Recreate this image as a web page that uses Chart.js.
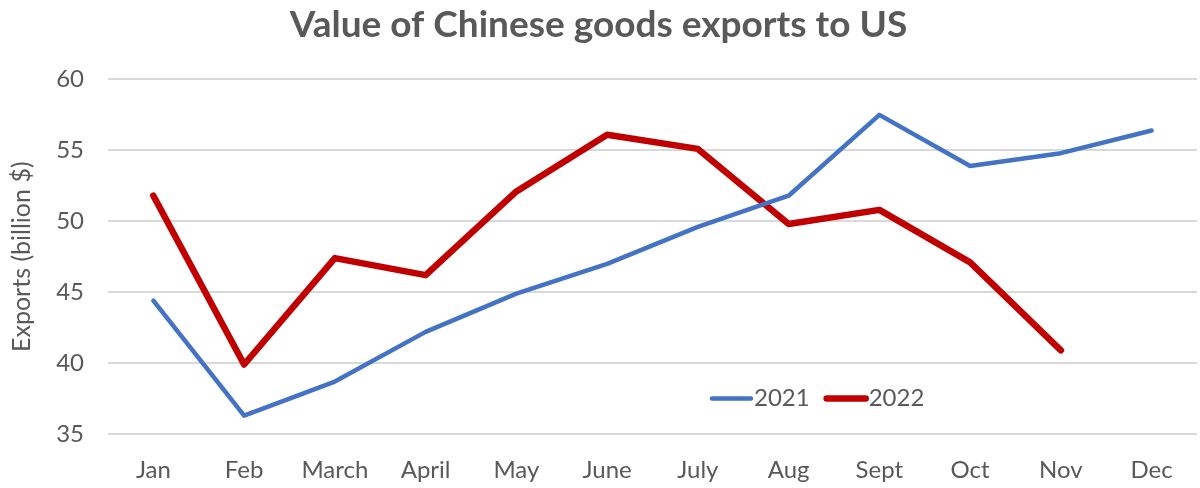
<!DOCTYPE html>
<html>
<head>
<meta charset="utf-8">
<script src="https://cdn.jsdelivr.net/npm/chart.js@4"></script>
<style>
html,body{margin:0;padding:0;background:#fff;}
#wrap{width:1200px;height:488px;position:relative;}
</style>
</head>
<body>
<div id="wrap"><canvas id="c" width="1200" height="488"></canvas></div>
<script>
const months = ["Jan","Feb","March","April","May","June","July","Aug","Sept","Oct","Nov","Dec"];
const exports2021 = [44.4, 36.3, 38.7, 42.2, 44.9, 47.0, 49.6, 51.8, 57.5, 53.9, 54.8, 56.4];
const exports2022 = [51.8, 39.9, 47.4, 46.2, 52.1, 56.1, 55.1, 49.8, 50.8, 47.1, 40.9, null];
const yTicks = [35, 40, 45, 50, 55, 60];
const seriesLabels = ["2021", "2022"];

const FONT = "Lato, 'Open Sans', sans-serif";
const GRAY = "#595959";

const innerLegend = {
  id: 'innerLegend',
  afterDraw(chart) {
    const ctx = chart.ctx;
    const ca = chart.chartArea;
    let x = ca.left + 602;
    const y = ca.top + 319;
    ctx.save();
    ctx.font = "24px " + FONT;
    ctx.textBaseline = "middle";
    chart.data.datasets.forEach(ds => {
      ctx.strokeStyle = ds.borderColor;
      ctx.lineWidth = ds.borderWidth;
      ctx.lineCap = "round";
      ctx.beginPath();
      ctx.moveTo(x + 2, y);
      ctx.lineTo(x + 41, y);
      ctx.stroke();
      ctx.fillStyle = GRAY;
      ctx.fillText(ds.label, x + 44, y);
      x += 44 + ctx.measureText(ds.label).width + 15;
    });
    ctx.restore();
  }
};

new Chart(document.getElementById('c'), {
  type: 'line',
  data: {
    labels: months,
    datasets: [
      { label: seriesLabels[0], data: exports2021, borderColor: "#4472C4", backgroundColor: "#4472C4", borderWidth: 4.5, pointRadius: 0, tension: 0, borderCapStyle: 'round', borderJoinStyle: 'round' },
      { label: seriesLabels[1], data: exports2022, borderColor: "#C00000", backgroundColor: "#C00000", borderWidth: 6.5, pointRadius: 0, tension: 0, borderCapStyle: 'round', borderJoinStyle: 'round' }
    ]
  },
  options: {
    responsive: false,
    animation: false,
    devicePixelRatio: 1,
    layout: { padding: { top: 0, right: 3, bottom: 0, left: 0 } },
    plugins: {
      legend: { display: false },
      tooltip: { enabled: false },
      title: {
        display: true,
        text: "Value of Chinese goods exports to US",
        color: GRAY,
        font: { family: FONT, size: 37, weight: 'bold' },
        padding: { top: 3, bottom: 32 }
      }
    },
    scales: {
      x: {
        offset: true,
        afterFit: s => { s.height = 54; },
        grid: { display: false },
        border: { display: false },
        ticks: { color: GRAY, font: { family: FONT, size: 24 }, padding: 14, maxRotation: 0, autoSkip: false }
      },
      y: {
        min: 35, max: 60,
        afterBuildTicks: s => { s.ticks = yTicks.map(v => ({ value: v })); },
        afterFit: s => { s.width = 108; },
        grid: { color: "#D9D9D9", lineWidth: 2, drawTicks: false },
        border: { display: false },
        ticks: { color: GRAY, font: { family: FONT, size: 24 }, padding: 24 },
        title: { display: true, text: "Exports (billion $)", color: GRAY, font: { family: FONT, size: 25 }, padding: { top: 7, bottom: 2 } }
      }
    }
  },
  plugins: [innerLegend]
});
</script>
</body>
</html>
